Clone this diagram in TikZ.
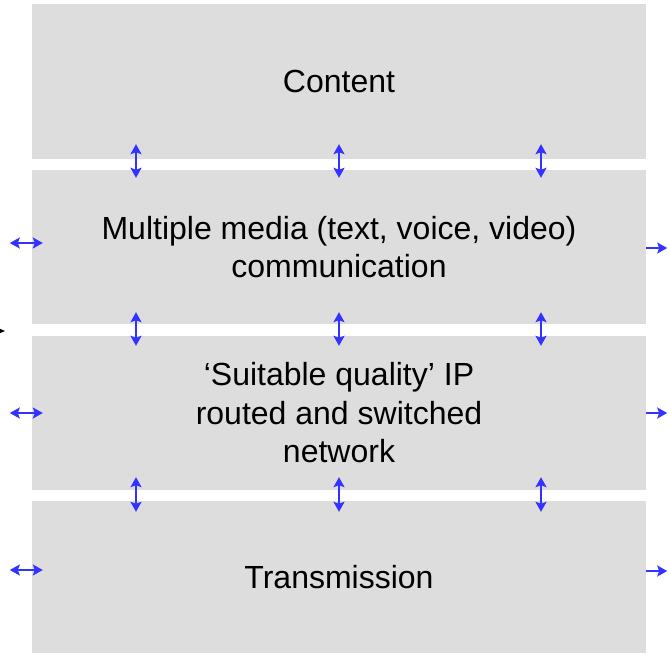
\documentclass[tikz,border=0pt]{standalone}
\usepackage{fontspec}
\setmainfont{Liberation Sans}
\usepackage{xcolor}
\usepackage{tikz}
\usetikzlibrary{arrows.meta, calc}
\definecolor{layergray}{RGB}{221,221,221}
\definecolor{linkblue}{RGB}{51,51,255}

\begin{document}
\begin{tikzpicture}[
	x=1pt, y=-1pt,
	font=\fontsize{32}{38.5}\selectfont,
	>={Stealth[length=10pt, width=11pt, inset=2pt]},
	layer/.style={fill=layergray, draw=none, align=center, inner sep=0pt,
		minimum width=614pt, execute at begin node={\vspace*{5pt}}},
	updown/.style={<->, linkblue, line width=2pt},
	sideboth/.style={<->, linkblue, line width=2pt},
	sideout/.style={->, linkblue, line width=2pt}
	]
	\useasboundingbox (0,0) rectangle (669,653);
	
	%--- layers -----------------------------------------------------------------
	\node[layer, minimum height=155pt] (content) at (339,81.5) {Content};
	\node[layer, minimum height=154pt] (media) at (339,247)
	{Multiple media (text, voice, video)\\communication};
	\node[layer, minimum height=154pt] (network) at (339,413)
	{‘Suitable quality’ IP\\routed and switched\\network};
	\node[layer, minimum height=152pt] (trans) at (339,577) {Transmission};
	
	%--- links between layers -------------------------------------------------
	\foreach \dx in {-203,0,202} {
		\draw[updown] ($(content.south)+(\dx,-15)$) -- ($(media.north)+(\dx,8)$);
		\draw[updown] ($(media.south)+(\dx,-12)$) -- ($(network.north)+(\dx,10)$);
		\draw[updown] ($(network.south)+(\dx,-13)$) -- ($(trans.north)+(\dx,11)$);
	}
	
	%--- side links -----------------------------------------------------------
	\draw[sideboth] ($(media.west)+(-22,-4)$) -- ($(media.west)+(11,-4)$);
	\draw[sideboth] ($(network.west)+(-22,0)$) -- ($(network.west)+(11,0)$);
	\draw[sideboth] ($(trans.west)+(-22,-7)$) -- ($(trans.west)+(11,-7)$);
	
	\draw[sideout] ($(media.east)+(0,1)$) -- ($(media.east)+(21,1)$);
	\draw[sideout] (network.east) -- ($(network.east)+(21,0)$);
	\draw[sideout] ($(trans.east)+(0,-6)$) -- ($(trans.east)+(21,-6)$);
	
	%--- cut-off arrow at the left edge ---------------------------------------
	\coordinate (stubA) at (-30,331);
	\coordinate (stubB) at (5,331);
	\draw[->, black, line width=1.2pt, >={Stealth[length=7pt, width=6pt]}] (stubA) -- (stubB);
\end{tikzpicture}
\end{document}
